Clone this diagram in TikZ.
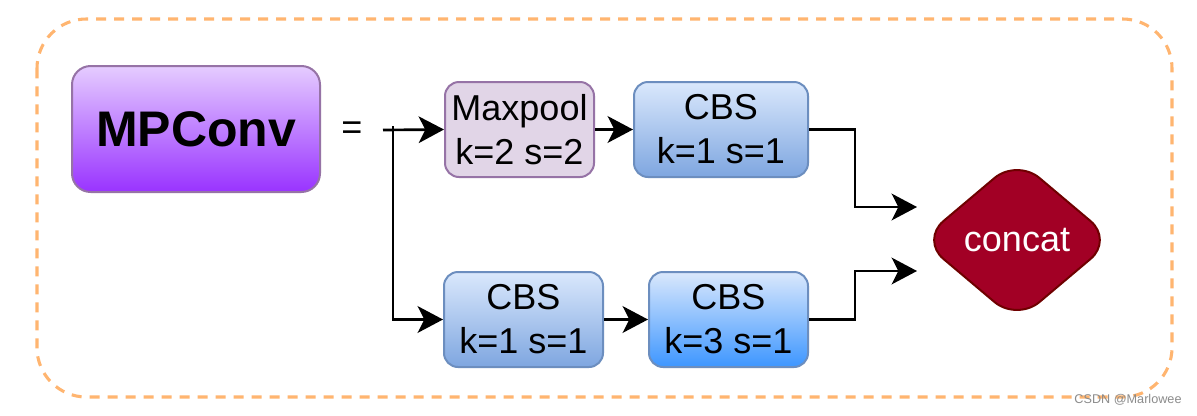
\documentclass[tikz,border=0pt]{standalone}
\usepackage{fontspec}
\setmainfont{Liberation Sans}
\usetikzlibrary{arrows.meta}
\definecolor{dashorange}{HTML}{FFB570}
\definecolor{mpstroke}{HTML}{9673A6}
\definecolor{mptop}{HTML}{E5CCFF}
\definecolor{mpbot}{HTML}{9933FF}
\definecolor{poolfill}{HTML}{E1D5E7}
\definecolor{cbstroke}{HTML}{6C8EBF}
\definecolor{cbtop}{HTML}{DAE8FC}
\definecolor{cbbot}{HTML}{7EA6E0}
\definecolor{cbbotstrong}{HTML}{3D96FF}
\definecolor{catfill}{HTML}{A20025}
\definecolor{catstroke}{HTML}{6F0000}
\tikzset{
  txt/.style={font=\fontsize{27pt}{33pt}\selectfont, align=center, inner sep=0pt},
  box/.style={txt, rounded corners=10.5pt, line width=1.5pt, minimum height=71.25pt},
  poolbox/.style={box, draw=mpstroke, fill=poolfill, minimum width=111.75pt},
  cbsbox/.style={box, draw=cbstroke, top color=cbtop, bottom color=cbbot},
  conn/.style={line width=2pt, -{Stealth[length=19pt,width=20pt,inset=5pt]}},
  plain/.style={line width=2pt}
}
\begin{document}
\begin{tikzpicture}[x=0.75pt,y=-0.75pt]
\useasboundingbox (0,0) rectangle (1197,415);
\fill[white] (0,0) rectangle (1197,415);
% outer dashed frame
\draw[dashorange, line width=2.3pt, dash pattern=on 7.5pt off 6pt, rounded corners=37pt]
  (37,19) rectangle (1172,397);
% MPConv
\node[draw=mpstroke, line width=1.5pt, rounded corners=14pt, top color=mptop, bottom color=mpbot,
      minimum width=186pt, minimum height=94.5pt, inner sep=0pt,
      font=\fontsize{37.5pt}{42pt}\selectfont\bfseries] (mp) at (196,129) {MPConv};
\node[txt] (eq) at (352,131) {=};
% boxes
\node[poolbox] (pool) at (519.5,129.5) {Maxpool\\k=2 s=2};
\node[cbsbox, minimum width=130.5pt] (cbsA) at (721,129.5) {CBS\\k=1 s=1};
\node[cbsbox, minimum width=119.25pt] (cbsB) at (523.5,319.5) {CBS\\k=1 s=1};
\node[cbsbox, minimum width=119.25pt, bottom color=cbbotstrong] (cbsC) at (728.5,319.5) {CBS\\k=3 s=1};
% concat diamond
\draw[catstroke, fill=catfill, line width=1.5pt, rounded corners=22pt]
  (921,240) -- (1017,159) -- (1113,240) -- (1017,321) -- cycle;
\node[txt, text=white] (cat) at (1017,240) {concat};
% connectors
\coordinate (start) at (383,130);
\coordinate (tick) at (393,126);
\coordinate (in1) at (917,207);
\coordinate (in2) at (917,271);
\draw[conn] (start) -- (pool.west);
\draw[conn] (tick) |- (cbsB.west);
\draw[conn] (pool.east) -- (cbsA.west);
\draw[conn] (cbsB.east) -- (cbsC.west);
\draw[conn] (cbsA.east) -- (855,129.5) |- (in1);
\draw[conn] (cbsC.east) -- (855,319.5) |- (in2);
% watermark
\node[font=\fontsize{9.5pt}{11pt}\selectfont, text=black!45, inner sep=0pt] (wm) at (1128,400) {CSDN @Marlowee};
\end{tikzpicture}
\end{document}
